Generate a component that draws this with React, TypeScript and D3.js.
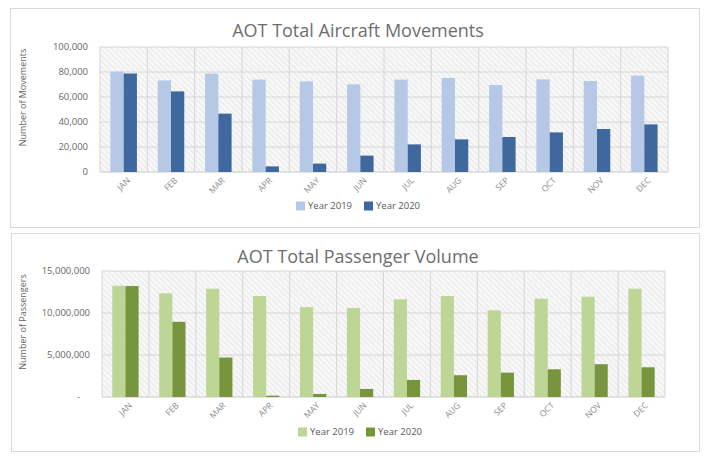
import React, { useEffect, useRef } from "react";
import * as d3 from "d3";

const months = ["JAN", "FEB", "MAR", "APR", "MAY", "JUN", "JUL", "AUG", "SEP", "OCT", "NOV", "DEC"];
const seriesNames = ["Year 2019", "Year 2020"];

const movements2019 = [80300, 73300, 78700, 73900, 72500, 70100, 73900, 75200, 69600, 74100, 72800, 77100];
const movements2020 = [78800, 64500, 46700, 4500, 6700, 13100, 22100, 26100, 28000, 31700, 34400, 38100];
const movementTicks = [0, 20000, 40000, 60000, 80000, 100000];

const passengers2019 = [13250000, 12340000, 12890000, 12020000, 10700000, 10580000, 11620000, 12020000, 10310000, 11700000, 11940000, 12890000];
const passengers2020 = [13210000, 8950000, 4700000, 160000, 360000, 960000, 2030000, 2590000, 2900000, 3300000, 3900000, 3540000];
const passengerTicks = [0, 5000000, 10000000, 15000000];

const W = 708;
const H = 461;

interface PanelSpec {
  key: string;
  title: string;
  yTitle: string;
  values: number[][];
  ticks: number[];
  zeroLabel: string;
  colors: string[];
  box: { x: number; y: number; w: number; h: number };
  plot: { left: number; right: number; top: number; bottom: number };
  titleY: number;
  legendY: number;
  legendX: number[];
}

const panels: PanelSpec[] = [
  {
    key: "mov",
    title: "AOT Total Aircraft Movements",
    yTitle: "Number of Movements",
    values: [movements2019, movements2020],
    ticks: movementTicks,
    zeroLabel: "0",
    colors: ["#b5c8e6", "#3f699e"],
    box: { x: 10.5, y: 8.5, w: 689, h: 219 },
    plot: { left: 100, right: 668, top: 47, bottom: 172 },
    titleY: 37,
    legendY: 206,
    legendX: [296, 364],
  },
  {
    key: "pax",
    title: "AOT Total Passenger Volume",
    yTitle: "Number of Passengers",
    values: [passengers2019, passengers2020],
    ticks: passengerTicks,
    zeroLabel: "-",
    colors: ["#bdd595", "#76953d"],
    box: { x: 11.5, y: 233.5, w: 688, h: 218 },
    plot: { left: 102, right: 665, top: 271, bottom: 397 },
    titleY: 263,
    legendY: 432,
    legendX: [298, 366],
  },
];

export default function App() {
  const ref = useRef<SVGSVGElement>(null);

  useEffect(() => {
    if (!ref.current) return;
    const svg = d3.select(ref.current);
    svg.selectAll("*").remove();

    const defs = svg.append("defs");
    const pat = defs
      .append("pattern")
      .attr("id", "hatch")
      .attr("patternUnits", "userSpaceOnUse")
      .attr("width", 4)
      .attr("height", 4)
      .attr("patternTransform", "rotate(-45)");
    pat.append("rect").attr("width", 4).attr("height", 4).attr("fill", "#f8f8f8");
    pat
      .append("line")
      .attr("x1", 0)
      .attr("y1", 0)
      .attr("x2", 0)
      .attr("y2", 4)
      .attr("stroke", "#e0e0e0")
      .attr("stroke-width", 1.5);

    svg.append("rect").attr("width", W).attr("height", H).attr("fill", "#ffffff");

    const font = "'Open Sans', 'DejaVu Sans', sans-serif";

    panels.forEach((p) => {
      const g = svg.append("g");

      g.append("rect")
        .attr("x", p.box.x)
        .attr("y", p.box.y)
        .attr("width", p.box.w)
        .attr("height", p.box.h)
        .attr("fill", "#ffffff")
        .attr("stroke", "#d9d9d9")
        .attr("stroke-width", 1);

      const x = d3.scaleBand<string>().domain(months).range([p.plot.left, p.plot.right]).padding(0);
      const bw = x.bandwidth();
      const barW = bw * 0.28;
      const sub = d3
        .scaleBand<string>()
        .domain(seriesNames)
        .range([(bw - barW * 2) / 2, (bw + barW * 2) / 2])
        .padding(0);
      const maxTick = p.ticks[p.ticks.length - 1];
      const y = d3.scaleLinear().domain([0, maxTick]).range([p.plot.bottom, p.plot.top]);

      // hatched plot background
      g.append("rect")
        .attr("x", p.plot.left)
        .attr("y", p.plot.top)
        .attr("width", p.plot.right - p.plot.left)
        .attr("height", p.plot.bottom - p.plot.top)
        .attr("fill", "url(#hatch)");

      // horizontal grid
      g.selectAll("line.hgrid")
        .data(p.ticks)
        .enter()
        .append("line")
        .attr("class", "hgrid")
        .attr("x1", p.plot.left)
        .attr("x2", p.plot.right)
        .attr("y1", (d) => y(d))
        .attr("y2", (d) => y(d))
        .attr("stroke", (d) => (d === 0 ? "#c8c8c8" : "#d6d6d6"))
        .attr("stroke-width", 1);

      // vertical grid at category boundaries
      const bounds = months.map((m) => x(m) as number).concat([p.plot.right]);
      g.selectAll("line.vgrid")
        .data(bounds)
        .enter()
        .append("line")
        .attr("class", "vgrid")
        .attr("x1", (d) => d)
        .attr("x2", (d) => d)
        .attr("y1", p.plot.top)
        .attr("y2", p.plot.bottom)
        .attr("stroke", "#d6d6d6")
        .attr("stroke-width", 1);

      // bars
      seriesNames.forEach((s, si) => {
        g.selectAll(`rect.bar${si}`)
          .data(p.values[si])
          .enter()
          .append("rect")
          .attr("class", `bar${si}`)
          .attr("x", (_, i) => (x(months[i]) as number) + (sub(s) as number))
          .attr("y", (d) => y(d))
          .attr("width", sub.bandwidth())
          .attr("height", (d) => y(0) - y(d))
          .attr("fill", p.colors[si]);
      });

      // y tick labels
      g.selectAll("text.ytick")
        .data(p.ticks)
        .enter()
        .append("text")
        .attr("class", "ytick")
        .attr("x", (d) => (d === 0 && p.zeroLabel === "-" ? p.plot.left - 22 : p.plot.left - 12))
        .attr("y", (d) => y(d))
        .attr("dy", "0.35em")
        .attr("text-anchor", "end")
        .attr("fill", "#666666")
        .style("font-family", font)
        .style("font-size", "9.5px")
        .text((d) => (d === 0 ? p.zeroLabel : d3.format(",")(d)));

      // x tick labels
      g.selectAll("text.xtick")
        .data(months)
        .enter()
        .append("text")
        .attr("class", "xtick")
        .attr("transform", (d) => `translate(${(x(d) as number) + bw / 2 + 7},${p.plot.bottom + 9}) rotate(-45)`)
        .attr("text-anchor", "end")
        .attr("fill", "#8c8c8c")
        .style("font-family", font)
        .style("font-size", "8.5px")
        .text((d) => d);

      // y axis title
      g.append("text")
        .attr("transform", `translate(26,${(p.plot.top + p.plot.bottom) / 2 - 12}) rotate(-90)`)
        .attr("text-anchor", "middle")
        .attr("fill", "#666666")
        .style("font-family", font)
        .style("font-size", "9px")
        .text(p.yTitle);

      // chart title
      g.append("text")
        .attr("x", 358)
        .attr("y", p.titleY)
        .attr("text-anchor", "middle")
        .attr("fill", "#6e6e6e")
        .style("font-family", font)
        .style("font-size", "18px")
        .text(p.title);

      // legend
      seriesNames.forEach((s, si) => {
        g.append("rect")
          .attr("x", p.legendX[si])
          .attr("y", p.legendY - 4.5)
          .attr("width", 9)
          .attr("height", 9)
          .attr("fill", p.colors[si]);
        g.append("text")
          .attr("x", p.legendX[si] + 12)
          .attr("y", p.legendY)
          .attr("dy", "0.35em")
          .attr("fill", "#595959")
          .style("font-family", font)
          .style("font-size", "9.5px")
          .text(s);
      });
    });
  }, []);

  return (
    <svg
      ref={ref}
      width={W}
      height={H}
      viewBox={`0 0 ${W} ${H}`}
      style={{ position: "absolute", left: 0, top: 0, display: "block" }}
    />
  );
}
